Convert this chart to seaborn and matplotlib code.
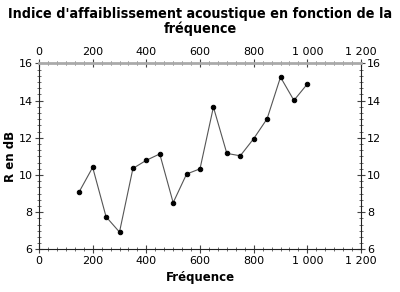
import matplotlib
matplotlib.use("Agg")
import matplotlib.pyplot as plt
import matplotlib.ticker as mticker
import seaborn as sns
import pandas as pd

freq = [150, 200, 250, 300, 350, 400, 450, 500, 550, 600, 650, 700, 750, 800, 850, 900, 950, 1000]
r_db = [9.1, 10.41, 7.75, 6.93, 10.35, 10.79, 11.13, 8.51, 10.05, 10.33, 13.65, 11.16, 11.03, 11.95, 13.02, 15.26, 14.01, 14.89]
title = "Indice d'affaiblissement acoustique en fonction de la\nfréquence"
xlabel = "Fréquence"
ylabel = "R en dB"

sns.set_theme(style="white")
plt.rcParams['font.family'] = ['DejaVu Sans']
plt.rcParams['text.color'] = 'black'
plt.rcParams['axes.labelcolor'] = 'black'
plt.rcParams['xtick.labelcolor'] = 'black'
plt.rcParams['ytick.labelcolor'] = 'black'

df = pd.DataFrame({"f": freq, "r": r_db})
fig = plt.figure(figsize=(4.0, 2.92), dpi=100)
ax = fig.add_axes([0.0975, 0.146, 0.805, 0.637])
sns.lineplot(data=df, x="f", y="r", ax=ax, color="#555555", linewidth=0.8,
             marker="o", markersize=3.2, markerfacecolor="black", markeredgecolor="black")

ax.set_xlim(0, 1200)
ax.set_ylim(6, 16)

def fmt(v, pos):
    s = f"{int(round(v)):,}".replace(",", " ")
    return s

ax.xaxis.set_major_locator(mticker.MultipleLocator(200))
ax.xaxis.set_minor_locator(mticker.AutoMinorLocator(6))
ax.xaxis.set_major_formatter(mticker.FuncFormatter(fmt))
ax.yaxis.set_major_locator(mticker.MultipleLocator(2))
ax.yaxis.set_minor_locator(mticker.AutoMinorLocator(6))

ax.tick_params(which="major", direction="inout", length=6, width=0.8, color="#444444",
               labelsize=8, labelcolor="black", top=True, right=True, labeltop=True,
               labelright=True, bottom=True, left=True, pad=1.5)
ax.tick_params(which="minor", direction="inout", length=3, width=0.6, color="#555555",
               top=True, right=True, bottom=True, left=True)

for side in ["left", "right", "bottom"]:
    ax.spines[side].set_color("#222222")
    ax.spines[side].set_linewidth(0.8)
ax.spines["top"].set_color("#aaaaaa")
ax.spines["top"].set_linewidth(2.0)

ax.set_xlabel(xlabel, fontsize=8.5, fontweight="bold", labelpad=4, color="black")
ax.set_ylabel(ylabel, fontsize=8.5, fontweight="bold", labelpad=1, color="black")
fig.suptitle(title, fontsize=10.3, fontweight="bold", fontstretch="condensed",
             y=0.975, linespacing=1.0, color="black")

fig.savefig("out.png", dpi=100)
